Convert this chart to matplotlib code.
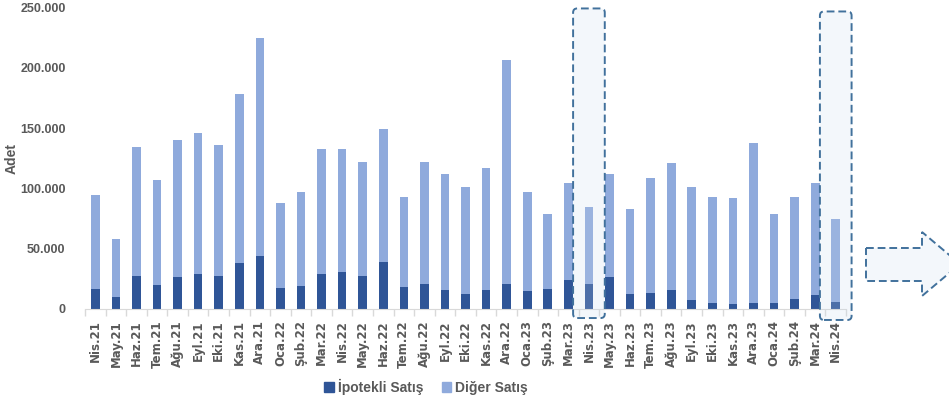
import matplotlib
matplotlib.use("Agg")
import matplotlib.pyplot as plt
from matplotlib.patches import FancyBboxPatch, Polygon, Patch
from matplotlib.ticker import FuncFormatter, FixedLocator

DARK, LIGHT = "#2f5597", "#8faadc"
TEXT, AXIS = "#595959", "#d9d9d9"
BOX_EDGE = "#41719c"

plt.rcParams.update({"font.family": "Liberation Sans", "font.weight": "bold"})

months = ["Nis.21", "May.21", "Haz.21", "Tem.21", "Ağu.21", "Eyl.21", "Eki.21", "Kas.21", "Ara.21",
          "Oca.22", "Şub.22", "Mar.22", "Nis.22", "May.22", "Haz.22", "Tem.22", "Ağu.22", "Eyl.22",
          "Eki.22", "Kas.22", "Ara.22", "Oca.23", "Şub.23", "Mar.23", "Nis.23", "May.23", "Haz.23",
          "Tem.23", "Ağu.23", "Eyl.23", "Eki.23", "Kas.23", "Ara.23", "Oca.24", "Şub.24", "Mar.24",
          "Nis.24"]
total = [94500, 58300, 134000, 106900, 140000, 146000, 136000, 178000, 225000,
         87600, 97000, 133000, 132300, 121500, 149400, 92800, 122000, 112000,
         101400, 116900, 206400, 97000, 79000, 104700, 84500, 112200, 82900,
         108300, 120700, 101400, 92800, 92300, 137600, 79000, 92800, 104700,
         74600]
ipotekli = [16300, 9700, 27600, 19600, 26500, 28700, 27000, 37800, 44200,
            17100, 18800, 29300, 30900, 27600, 39200, 18000, 21000, 15500,
            12700, 15500, 21000, 14900, 16300, 24300, 21000, 26500, 12700,
            13500, 15500, 7200, 4700, 4100, 4700, 4700, 8000, 11900,
            6100]
diger = [t - i for t, i in zip(total, ipotekli)]
highlight = ["Nis.23", "Nis.24"]

fig = plt.figure(figsize=(9.49, 4.07), dpi=100)
ax = fig.add_axes([0.0896, 0.2408, 0.8019, 0.7408])

x = list(range(len(months)))
ax.bar(x, ipotekli, 0.42, color=DARK, zorder=2)
ax.bar(x, diger, 0.42, bottom=ipotekli, color=LIGHT, zorder=2)

ax.set_xlim(-0.5, len(months) - 0.5)
ax.set_ylim(0, 250000)
ax.set_yticks(range(0, 250001, 50000))
ax.yaxis.set_major_formatter(FuncFormatter(lambda v, p: f"{int(v):,}".replace(",", ".")))
ax.set_xticks(x)
ax.set_xticklabels(months, rotation=90, fontsize=8.5, color=TEXT,
                   family="DejaVu Sans", fontweight="bold")
ax.xaxis.set_minor_locator(FixedLocator([i - 0.5 for i in range(len(months) + 1)]))
ax.tick_params(axis="x", which="major", length=0, pad=8)
ax.tick_params(axis="x", which="minor", length=5, color=AXIS, width=1)
ax.tick_params(axis="y", length=0, labelsize=9, labelcolor=TEXT, pad=14)
for s in ("top", "right", "left"):
    ax.spines[s].set_visible(False)
ax.spines["bottom"].set_color(AXIS)
ax.set_ylabel("Adet", fontsize=10, color=TEXT, fontweight="bold")
ax.yaxis.set_label_coords(-0.087, 0.5)

# dashed highlight boxes around the same-month bars
px_x = 761 / len(months)          # pixels per category
px_y = 301 / 250000               # pixels per unit
aspect = px_x / px_y
for lab, top, bot in zip(highlight, [249200, 246700], [-7500, -9100]):
    i = months.index(lab)
    box = FancyBboxPatch((i - 0.77, bot), 1.54, top - bot,
                         boxstyle="round,pad=0,rounding_size=0.2",
                         mutation_aspect=aspect,
                         facecolor=(0.78, 0.85, 0.93, 0.2), edgecolor=BOX_EDGE,
                         linewidth=1.4, linestyle=(0, (4, 2)), zorder=4, clip_on=False)
    ax.add_patch(box)

# block arrow on the right edge
W, H = 949, 407
pts = [(866, 248), (922, 248), (922, 232), (960, 264), (922, 296), (922, 281), (866, 281)]
arrow = Polygon([(px / W, 1 - py / H) for px, py in pts], closed=True,
                transform=fig.transFigure, facecolor="#f3f7fb", edgecolor=BOX_EDGE,
                linewidth=1.4, linestyle=(0, (4, 2)), clip_on=False)
fig.patches.append(arrow)

handles = [Patch(color=DARK, label="İpotekli Satış"), Patch(color=LIGHT, label="Diğer Satış")]
leg = fig.legend(handles=handles, loc="center", bbox_to_anchor=(0.449, 0.049), ncol=2,
                 frameon=False, handlelength=0.7, handleheight=0.7, handletextpad=0.3,
                 columnspacing=1.3, prop={"size": 10, "weight": "bold"})
for t in leg.get_texts():
    t.set_color(TEXT)

fig.savefig("out.png", dpi=100)
